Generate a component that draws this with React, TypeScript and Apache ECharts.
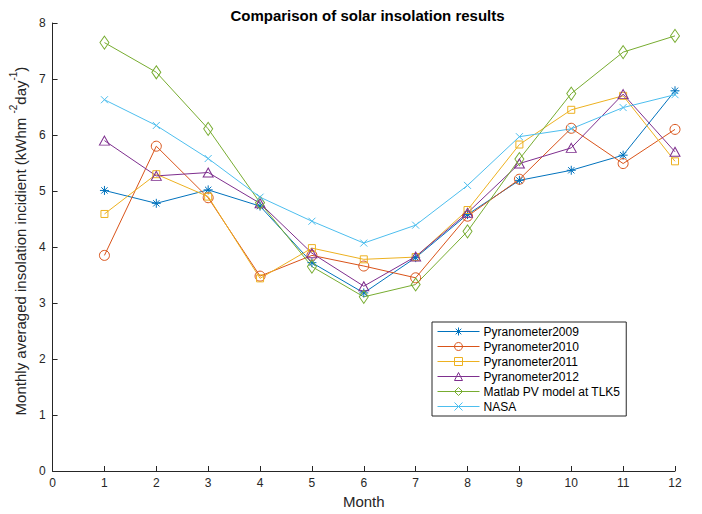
import React, { useEffect, useRef } from "react";
import * as echarts from "echarts";

// Month numbers on the x axis
const months = [1, 2, 3, 4, 5, 6, 7, 8, 9, 10, 11, 12];

// Monthly averaged insolation (kWh m^-2 day^-1)
const pyranometer2009 = [5.01, 4.78, 5.02, 4.73, 3.72, 3.18, 3.81, 4.58, 5.19, 5.37, 5.64, 6.79];
const pyranometer2010 = [3.85, 5.8, 4.88, 3.48, 3.85, 3.66, 3.45, 4.55, 5.21, 6.12, 5.49, 6.1];
const pyranometer2011 = [4.59, 5.3, 4.9, 3.44, 3.98, 3.78, 3.82, 4.66, 5.83, 6.45, 6.7, 5.53];
const pyranometer2012 = [5.9, 5.27, 5.33, 4.78, 3.89, 3.3, 3.83, 4.61, 5.49, 5.77, 6.73, 5.7];
const matlabModel = [7.65, 7.12, 6.11, 4.79, 3.65, 3.11, 3.33, 4.28, 5.57, 6.74, 7.48, 7.77];
const nasa = [6.63, 6.17, 5.58, 4.89, 4.46, 4.07, 4.39, 5.1, 5.97, 6.11, 6.49, 6.72];

const seriesNames = [
  "Pyranometer2009",
  "Pyranometer2010",
  "Pyranometer2011",
  "Pyranometer2012",
  "Matlab PV model at TLK5",
  "NASA",
];

const FONT = "'Liberation Sans', Arial, Helvetica, sans-serif";
const AXIS_COLOR = "#262626";

const ASTERISK = "path://M5,0L5,10M0,5L10,5M1.5,1.5L8.5,8.5M1.5,8.5L8.5,1.5";
const CROSS = "path://M0,0L10,10M0,10L10,0";

const styles = [
  { color: "#0072BD", symbol: ASTERISK, size: 9 },
  { color: "#D95319", symbol: "circle", size: 10 },
  { color: "#EDB120", symbol: "rect", size: 7 },
  { color: "#7E2F8E", symbol: "triangle", size: [10, 9] },
  { color: "#77AC30", symbol: "diamond", size: [9, 13] },
  { color: "#4DBEEE", symbol: CROSS, size: 7 },
];

const seriesData = [
  pyranometer2009,
  pyranometer2010,
  pyranometer2011,
  pyranometer2012,
  matlabModel,
  nasa,
];

export default function App() {
  const ref = useRef<HTMLDivElement>(null);

  useEffect(() => {
    if (!ref.current) return;
    const chart = echarts.init(ref.current, undefined, { renderer: "svg" });

    const series = seriesData.map((values, i) => ({
      name: seriesNames[i],
      type: "line",
      data: months.map((m, j) => [m, values[j]]),
      symbol: styles[i].symbol,
      symbolSize: styles[i].size,
      showAllSymbol: true,
      color: styles[i].color,
      lineStyle: { color: styles[i].color, width: 1 },
      itemStyle: {
        color: "rgba(255,255,255,0)",
        borderColor: styles[i].color,
        borderWidth: 1,
      },
      emphasis: { disabled: true },
    }));

    const legendData = seriesNames.map((name, i) => ({
      name,
      lineStyle: { color: styles[i].color, width: 1 },
      itemStyle: {
        color: "rgba(255,255,255,0)",
        borderColor: styles[i].color,
        borderWidth: 1,
      },
    }));

    chart.setOption({
      animation: false,
      textStyle: { fontFamily: FONT },
      title: {
        text: "Comparison of solar insolation results",
        left: 362.5,
        textAlign: "center",
        top: 3,
        textStyle: { fontFamily: FONT, fontSize: 15, fontWeight: "bold", color: "#000" },
      },
      grid: { left: 50, right: 27, top: 23, bottom: 42 },
      legend: {
        orient: "vertical",
        left: 432,
        top: 322,
        data: legendData,
        itemWidth: 42,
        itemHeight: 10,
        itemGap: 2,
        padding: [3, 6, 3, 5],
        borderColor: AXIS_COLOR,
        borderWidth: 1,
        backgroundColor: "#fff",
        textStyle: { fontFamily: FONT, fontSize: 12, color: "#000", lineHeight: 13, padding: [0, 0, 0, -1] },
        selectedMode: false,
      },
      xAxis: {
        type: "value",
        min: 0,
        max: 12,
        interval: 1,
        name: "Month",
        nameLocation: "middle",
        nameGap: 23,
        nameTextStyle: { fontFamily: FONT, fontSize: 15, color: AXIS_COLOR },
        axisLine: { onZero: false, lineStyle: { color: AXIS_COLOR, width: 1 } },
        axisTick: { inside: true, length: 5, lineStyle: { color: AXIS_COLOR } },
        axisLabel: { fontFamily: FONT, fontSize: 12, color: AXIS_COLOR, margin: 6 },
        splitLine: { show: false },
      },
      yAxis: {
        type: "value",
        min: 0,
        max: 8,
        interval: 1,
        name:
          "{n|Monthly averaged insolation incidient (kWhm }{s|-2}{n|day}{s|-1}{n|)}",
        nameLocation: "middle",
        nameRotate: 90,
        nameGap: 19,
        nameTextStyle: {
          fontFamily: FONT,
          color: AXIS_COLOR,
          padding: [0, 0, 0, 12],
          rich: {
            n: { fontFamily: FONT, fontSize: 15, color: AXIS_COLOR, lineHeight: 20, verticalAlign: "bottom" },
            s: { fontFamily: FONT, fontSize: 10, color: AXIS_COLOR, lineHeight: 10, verticalAlign: "top" },
          },
        },
        axisLine: { show: true, lineStyle: { color: AXIS_COLOR, width: 1 } },
        axisTick: { show: true, inside: true, length: 5, lineStyle: { color: AXIS_COLOR } },
        axisLabel: { fontFamily: FONT, fontSize: 12, color: AXIS_COLOR, margin: 7 },
        splitLine: { show: false },
      },
      series,
    });

    return () => chart.dispose();
  }, []);

  return (
    <div
      ref={ref}
      style={{ position: "fixed", left: 0, top: 0, width: 702, height: 514, background: "#fff" }}
    />
  );
}
